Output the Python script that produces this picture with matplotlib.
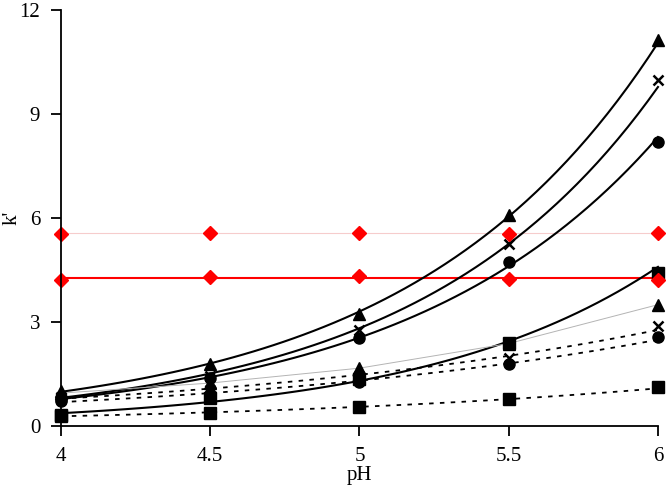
import matplotlib.pyplot as plt
import numpy as np

plt.rcParams['font.family'] = ['Liberation Serif', 'DejaVu Serif']

ph = np.array([4, 4.5, 5, 5.5, 6])

# solid black series (upper group)
tri_solid = [1.0, 1.8, 3.23, 6.08, 11.13]
star_solid = [0.85, 1.45, 2.77, 5.25, 9.98]
circ_solid = [0.78, 1.4, 2.55, 4.73, 8.19]
# lower group
sq_solid = [0.33, 0.8, 1.35, 2.4, 4.42]
tri_gray = [0.95, 1.24, 1.67, 2.38, 3.5]
star_dot = [0.82, 1.05, 1.45, 1.97, 2.88]
circ_dot = [0.72, 0.92, 1.28, 1.78, 2.57]
sq_dot = [0.3, 0.37, 0.55, 0.77, 1.12]
# red diamonds
dia_light = [5.55, 5.58, 5.58, 5.55, 5.58]
dia_red = [4.22, 4.3, 4.32, 4.25, 4.22]

xs = np.linspace(4, 6, 60)


def expfit(y):
    b, a = np.polyfit(ph, np.log(y), 1)
    return np.exp(a + b * xs)


fig = plt.figure(figsize=(6.68, 4.92), dpi=100)
ax = fig.add_axes([0.0913, 0.134, 0.8937, 0.846])

# trend lines
ax.plot(ph, [np.mean(dia_light)] * 5, color='#f6cccc', lw=0.8)
ax.plot(ph, [np.mean(dia_red)] * 5, color='#ff0000', lw=1.5)
for y in (tri_solid, star_solid, circ_solid, sq_solid):
    ax.plot(xs, expfit(y), color='black', lw=1.5)
ax.plot(ph, tri_gray, color='#b4b4b4', lw=0.7)
for y in (star_dot, circ_dot, sq_dot):
    ax.plot(xs, expfit(y), color='black', lw=1.3, ls=(0, (2.5, 3.5)))

# markers
ax.plot(ph, tri_solid, '^', color='black', ms=9, ls='none')
ax.plot(ph, star_solid, 'x', color='black', ms=7, mew=1.8, ls='none')
ax.plot(ph, circ_solid, 'o', color='black', ms=8, ls='none')
ax.plot(ph, sq_solid, 's', color='black', ms=8, ls='none')
ax.plot(ph, tri_gray, '^', color='black', ms=9, ls='none')
ax.plot(ph, star_dot, 'x', color='black', ms=7, mew=1.8, ls='none')
ax.plot(ph, circ_dot, 'o', color='black', ms=8, ls='none')
ax.plot(ph, sq_dot, 's', color='black', ms=8, ls='none')
ax.plot(ph, dia_light, 'D', color='#ff0000', ms=7, ls='none')
ax.plot(ph, dia_red, 'D', color='#ff0000', ms=7, ls='none')

ax.set_xlim(4, 6)
ax.set_ylim(0, 12)
ax.set_xticks([4, 4.5, 5, 5.5, 6])
ax.set_xticklabels(['4', '4.5', '5', '5.5', '6'])
ax.set_yticks([0, 3, 6, 9, 12])
ax.spines['top'].set_visible(False)
ax.spines['right'].set_visible(False)
ax.spines['left'].set_linewidth(1.3)
ax.spines['bottom'].set_linewidth(1.3)
ax.tick_params(direction='out', length=7, width=1.3, labelsize=15, pad=8)
ax.set_xlabel('pH', fontsize=15, labelpad=0)
ax.set_ylabel("k'", fontsize=15)
ax.yaxis.set_label_coords(-0.066, 0.5)
for a in ax.lines:
    a.set_clip_on(False)

fig.savefig('out.png', dpi=100)
